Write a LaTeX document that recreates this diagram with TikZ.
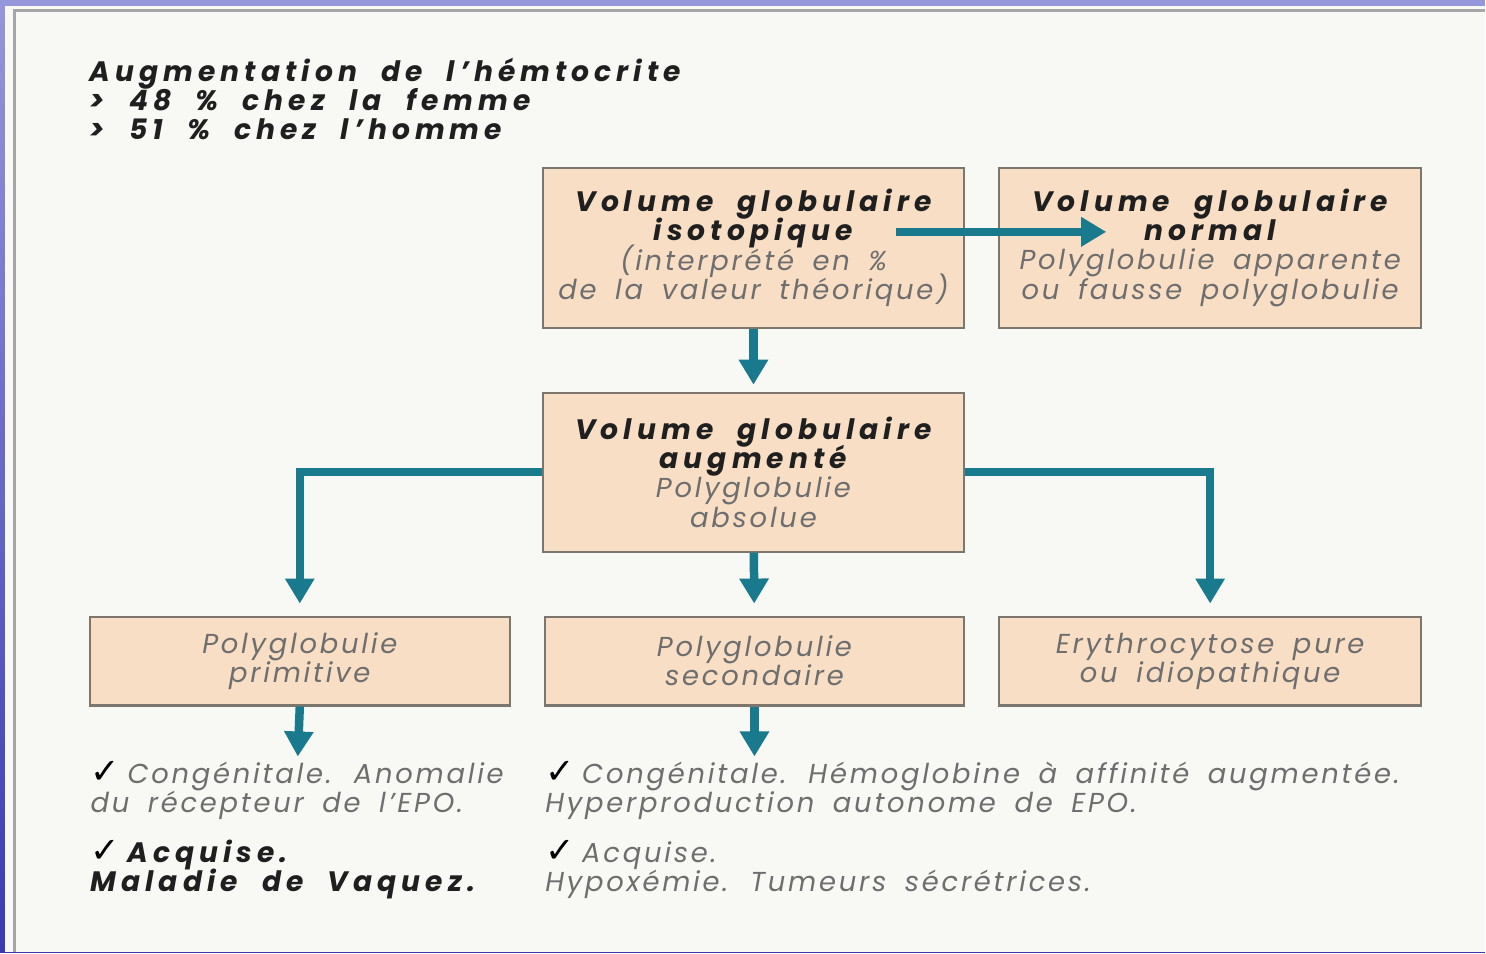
\documentclass[tikz,border=0pt]{standalone}
\usepackage{fontspec}
\setmainfont{Poppins}
\newfontfamily\headface{Poppins}[LetterSpace=18, WordSpace=2.1]
\newfontfamily\subface{Poppins}[LetterSpace=10, WordSpace=1.7]
\newfontfamily\symfont{DejaVu Sans}
\usetikzlibrary{arrows.meta,positioning}
\definecolor{pagebg}{RGB}{248,248,245}
\definecolor{frametop}{RGB}{150,150,218}
\definecolor{framebot}{RGB}{58,58,178}
\definecolor{peach}{RGB}{248,222,196}
\definecolor{boxline}{RGB}{125,118,108}
\definecolor{arrowteal}{RGB}{24,122,140}
\definecolor{greytxt}{RGB}{110,110,110}
\newcommand{\tightlines}{\lineskiplimit-20pt\relax}
\newcommand{\chkmark}{{\symfont\fontsize{10}{8.3}\selectfont\char"2713}}
\newcommand{\headtxt}[1]{{\headface\fontsize{8}{8.3}\selectfont\bfseries\itshape\color{black!88}#1}}
\newcommand{\subtxt}[1]{{\subface\fontsize{7.8}{8.3}\selectfont\itshape\color{greytxt}#1}}

\begin{document}
\begin{tikzpicture}[x=1cm, y=1cm,
  box/.style={draw=boxline, line width=0.6pt, fill=peach, minimum width=4.22cm,
    align=center, inner sep=0pt,
    font=\fontsize{8}{8.3}\selectfont\tightlines},
  flow/.style={draw=arrowteal, line width=0.085cm,
    -{Triangle[length=0.25cm, width=0.28cm]}},
  note/.style={anchor=west, align=left, inner sep=0pt,
    font=\fontsize{8}{8.3}\selectfont\tightlines}]
% page and frame
\shade[top color=frametop, bottom color=framebot] (0,0) rectangle (14.86,-9.53);
\fill[pagebg] (0.05,-0.06) rectangle (14.86,-9.53);
\draw[black!35, line width=0.6pt] (0.145,-9.53) -- (0.145,-0.105) -- (14.86,-0.105);
\useasboundingbox (0,0) rectangle (14.86,-9.53);
% hematocrit
\node[note] (hemato) at (0.89,-0.99)
  {\headtxt{Augmentation de l’hémtocrite}\\
   \headtxt{> 48 \% chez la femme}\\
   \headtxt{> 51 \% chez l’homme}};
% boxes
\node[box, minimum height=1.60cm] (iso) at (7.54,-2.48)
  {\headtxt{Volume globulaire}\\ \headtxt{isotopique}\\
   \subtxt{(interprété en \%}\\ \subtxt{de la valeur théorique)}};
\node[box, minimum height=1.60cm] (normal) at (12.11,-2.48)
  {\headtxt{Volume globulaire}\\ \headtxt{normal}\\
   \subtxt{Polyglobulie apparente}\\ \subtxt{ou fausse polyglobulie}};
\node[box, minimum height=1.59cm] (aug) at (7.54,-4.725)
  {\headtxt{Volume globulaire}\\ \headtxt{augmenté}\\
   \subtxt{Polyglobulie}\\ \subtxt{absolue}};
\node[box, minimum width=4.20cm, minimum height=0.89cm] (prim) at (3.00,-6.615)
  {\subtxt{Polyglobulie}\\ \subtxt{primitive}};
\node[box, minimum width=4.20cm, minimum height=0.89cm] (second) at (7.55,-6.615)
  {\subtxt{Polyglobulie}\\ \subtxt{secondaire}};
\node[box, minimum height=0.89cm] (erythro) at (12.11,-6.615)
  {\subtxt{Erythrocytose pure}\\ \subtxt{ou idiopathique}};
% causes
\node[note] (primA) at (0.90,-7.91)
  {\chkmark\ \subtxt{Congénitale. Anomalie}\\ \subtxt{du récepteur de l’EPO.}};
\node[note] (primB) at (0.90,-8.70)
  {\chkmark\ \headtxt{Acquise.}\\ \headtxt{Maladie de Vaquez.}};
\node[note] (secA) at (5.45,-7.91)
  {\chkmark\ \subtxt{Congénitale. Hémoglobine à affinité augmentée.}\\
   \subtxt{Hyperproduction autonome de EPO.}};
\node[note] (secB) at (5.45,-8.70)
  {\chkmark\ \subtxt{Acquise.}\\ \subtxt{Hypoxémie. Tumeurs sécrétrices.}};
% arrows
\coordinate (hstart) at (8.97,-2.32);
\coordinate (hend) at (11.07,-2.32);
\coordinate (primend) at (2.98,-7.57);
\coordinate (secend) at (7.55,-7.57);
\draw[flow] (hstart) -- (hend);
\draw[flow, shorten >=0.07cm] (iso) -- (aug);
\draw[flow, shorten >=0.12cm] (aug.west) -| (prim.north);
\draw[flow, shorten >=0.12cm] (aug.east) -| (erythro.north);
\draw[flow, shorten >=0.12cm] (aug) -- (second);
\draw[flow] (prim.south) -- (primend);
\draw[flow] (second.south) -- (secend);
\end{tikzpicture}
\end{document}
